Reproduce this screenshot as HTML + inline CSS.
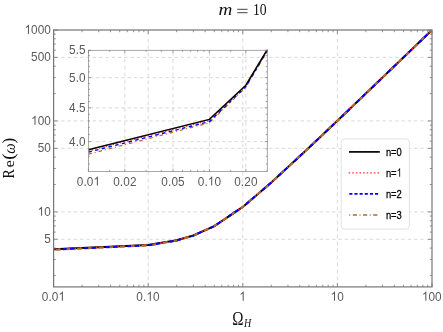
<!DOCTYPE html>
<html><head><meta charset="utf-8"><title>m = 10</title>
<style>html,body{margin:0;padding:0;background:#fff;}svg{display:block;will-change:transform}</style>
</head><body>
<svg width="443" height="332" viewBox="0 0 443 332">
<rect width="443" height="332" fill="#fff"/>
<g stroke="#cfcfcf" stroke-width="0.8" fill="none">
<path d="M53.6 239.28 H432.0 M53.6 211.90 H432.0 M53.6 148.33 H432.0 M53.6 120.95 H432.0 M53.6 57.38 H432.0" stroke-dasharray="3.4 2.9" stroke-dashoffset="5"/>
<path d="M148.20 30.0 V286.9 M242.80 30.0 V286.9 M337.40 30.0 V286.9" stroke-dasharray="3.8 3.2" stroke-dashoffset="5.5"/>
<path d="M88.4 141.60 H267.3 M88.4 107.84 H267.3 M88.4 77.64 H267.3" stroke-dasharray="3.4 2.9" stroke-dashoffset="5"/>
<path d="M124.82 50.3 V171.4 M172.98 50.3 V171.4 M209.40 50.3 V171.4 M245.82 50.3 V171.4" stroke-dasharray="3.8 3.2" stroke-dashoffset="5.5"/>
</g>
<clipPath id="cm"><rect x="53.6" y="30.0" width="378.4" height="256.9"/></clipPath>
<g clip-path="url(#cm)" fill="none">
<path d="M53.60 249.20 L148.20 245.03 L176.68 240.32 L193.34 235.44 L214.32 226.10 L242.80 206.90 L271.28 182.59 L308.92 147.70 L337.40 120.83 L432.00 30.00" stroke="#000" stroke-width="2.0"/>
<path d="M53.60 249.38 L148.20 245.19 L176.68 240.42 L193.34 235.51 L214.32 226.13 L242.80 206.90 L271.28 182.59 L308.92 147.70 L337.40 120.83 L432.00 30.00" stroke="#ff2a2a" stroke-width="2.0" stroke-dasharray="1.7 3.675" stroke-dashoffset="0.85"/>
<path d="M53.60 249.54 L148.20 245.34 L176.68 240.51 L193.34 235.59 L214.32 226.16 L242.80 206.90 L271.28 182.59 L308.92 147.70 L337.40 120.83 L432.00 30.00" stroke="#0000ff" stroke-width="2.0" stroke-dasharray="11.6 9.9" stroke-dashoffset="-9.3"/>
<path d="M53.60 249.83 L148.20 245.50 L176.68 240.61 L193.34 235.66 L214.32 226.19 L242.80 206.90 L271.28 182.59 L308.92 147.70 L337.40 120.83 L432.00 30.00" stroke="#b5682e" stroke-width="2.0" stroke-dasharray="5.2 5.8 3.6 6.9" stroke-dashoffset="-2.0"/>
</g>
<clipPath id="ci"><rect x="88.4" y="49.8" width="179.5" height="121.10000000000001"/></clipPath>
<g clip-path="url(#ci)" fill="none">
<path d="M88.40 154.20 L209.40 122.81 L245.82 87.32 L267.13 51.36 L293.98 -17.37 L330.40 -157.34 L366.82 -333.71 L414.98 -586.91 L451.40 -781.90 L572.40 -1441.04" stroke="#b5682e" stroke-width="1.2" stroke-dasharray="3.5 3 1 3"/>
<path d="M88.40 152.11 L209.40 121.60 L245.82 86.61 L267.13 50.84 L293.98 -17.57 L330.40 -157.34 L366.82 -333.71 L414.98 -586.91 L451.40 -781.90 L572.40 -1441.04" stroke="#0000ff" stroke-width="1.4" stroke-dasharray="3.5 3.4"/>
<path d="M88.40 150.92 L209.40 120.54 L245.82 85.90 L267.13 50.32 L293.98 -17.78 L330.40 -157.34 L366.82 -333.71 L414.98 -586.91 L451.40 -781.90 L572.40 -1441.04" stroke="#ff3030" stroke-width="1.2" stroke-dasharray="1.2 2.4"/>
<path d="M88.40 149.67 L209.40 119.41 L245.82 85.19 L267.13 49.80 L293.98 -17.98 L330.40 -157.34 L366.82 -333.71 L414.98 -586.91 L451.40 -781.90 L572.40 -1441.04" stroke="#000" stroke-width="1.5"/>
</g>
<rect x="53.6" y="30.0" width="378.4" height="256.9" fill="none" stroke="#767676" stroke-width="1.2"/>
<path d="M53.60 286.9 v-4.0 M53.60 30.0 v4.0 M82.08 286.9 v-2.2 M82.08 30.0 v2.2 M98.74 286.9 v-2.2 M98.74 30.0 v2.2 M110.55 286.9 v-2.2 M110.55 30.0 v2.2 M119.72 286.9 v-2.2 M119.72 30.0 v2.2 M127.21 286.9 v-2.2 M127.21 30.0 v2.2 M133.55 286.9 v-2.2 M133.55 30.0 v2.2 M139.03 286.9 v-2.2 M139.03 30.0 v2.2 M143.87 286.9 v-2.2 M143.87 30.0 v2.2 M148.20 286.9 v-4.0 M148.20 30.0 v4.0 M176.68 286.9 v-2.2 M176.68 30.0 v2.2 M193.34 286.9 v-2.2 M193.34 30.0 v2.2 M205.15 286.9 v-2.2 M205.15 30.0 v2.2 M214.32 286.9 v-2.2 M214.32 30.0 v2.2 M221.81 286.9 v-2.2 M221.81 30.0 v2.2 M228.15 286.9 v-2.2 M228.15 30.0 v2.2 M233.63 286.9 v-2.2 M233.63 30.0 v2.2 M238.47 286.9 v-2.2 M238.47 30.0 v2.2 M242.80 286.9 v-4.0 M242.80 30.0 v4.0 M271.28 286.9 v-2.2 M271.28 30.0 v2.2 M287.94 286.9 v-2.2 M287.94 30.0 v2.2 M299.75 286.9 v-2.2 M299.75 30.0 v2.2 M308.92 286.9 v-2.2 M308.92 30.0 v2.2 M316.41 286.9 v-2.2 M316.41 30.0 v2.2 M322.75 286.9 v-2.2 M322.75 30.0 v2.2 M328.23 286.9 v-2.2 M328.23 30.0 v2.2 M333.07 286.9 v-2.2 M333.07 30.0 v2.2 M337.40 286.9 v-4.0 M337.40 30.0 v4.0 M365.88 286.9 v-2.2 M365.88 30.0 v2.2 M382.54 286.9 v-2.2 M382.54 30.0 v2.2 M394.35 286.9 v-2.2 M394.35 30.0 v2.2 M403.52 286.9 v-2.2 M403.52 30.0 v2.2 M411.01 286.9 v-2.2 M411.01 30.0 v2.2 M417.35 286.9 v-2.2 M417.35 30.0 v2.2 M422.83 286.9 v-2.2 M422.83 30.0 v2.2 M427.67 286.9 v-2.2 M427.67 30.0 v2.2 M432.00 286.9 v-4.0 M432.00 30.0 v4.0 M53.6 275.47 h2.2 M432.0 275.47 h-2.2 M53.6 259.46 h2.2 M432.0 259.46 h-2.2 M53.6 248.09 h2.2 M432.0 248.09 h-2.2 M53.6 239.28 h4.0 M432.0 239.28 h-4.0 M53.6 232.08 h2.2 M432.0 232.08 h-2.2 M53.6 225.99 h2.2 M432.0 225.99 h-2.2 M53.6 220.71 h2.2 M432.0 220.71 h-2.2 M53.6 216.06 h2.2 M432.0 216.06 h-2.2 M53.6 211.90 h4.0 M432.0 211.90 h-4.0 M53.6 184.52 h2.2 M432.0 184.52 h-2.2 M53.6 168.51 h2.2 M432.0 168.51 h-2.2 M53.6 157.14 h2.2 M432.0 157.14 h-2.2 M53.6 148.33 h4.0 M432.0 148.33 h-4.0 M53.6 141.13 h2.2 M432.0 141.13 h-2.2 M53.6 135.04 h2.2 M432.0 135.04 h-2.2 M53.6 129.76 h2.2 M432.0 129.76 h-2.2 M53.6 125.11 h2.2 M432.0 125.11 h-2.2 M53.6 120.95 h4.0 M432.0 120.95 h-4.0 M53.6 93.57 h2.2 M432.0 93.57 h-2.2 M53.6 77.56 h2.2 M432.0 77.56 h-2.2 M53.6 66.19 h2.2 M432.0 66.19 h-2.2 M53.6 57.38 h4.0 M432.0 57.38 h-4.0 M53.6 50.18 h2.2 M432.0 50.18 h-2.2 M53.6 44.09 h2.2 M432.0 44.09 h-2.2 M53.6 38.81 h2.2 M432.0 38.81 h-2.2 M53.6 34.16 h2.2 M432.0 34.16 h-2.2 M53.6 30.00 h4.0 M432.0 30.00 h-4.0" stroke="#767676" stroke-width="0.8" fill="none"/>
<rect x="88.4" y="50.3" width="178.9" height="121.10000000000001" fill="none" stroke="#8a8a8a" stroke-width="0.75"/>
<path d="M88.40 171.4 v-2.6 M88.40 50.3 v2.6 M109.71 171.4 v-1.5 M109.71 50.3 v1.5 M124.82 171.4 v-2.6 M124.82 50.3 v2.6 M146.13 171.4 v-1.5 M146.13 50.3 v1.5 M161.25 171.4 v-1.5 M161.25 50.3 v1.5 M172.98 171.4 v-2.6 M172.98 50.3 v2.6 M182.56 171.4 v-1.5 M182.56 50.3 v1.5 M190.66 171.4 v-1.5 M190.66 50.3 v1.5 M197.67 171.4 v-1.5 M197.67 50.3 v1.5 M203.86 171.4 v-1.5 M203.86 50.3 v1.5 M209.40 171.4 v-2.6 M209.40 50.3 v2.6 M230.71 171.4 v-1.5 M230.71 50.3 v1.5 M245.82 171.4 v-2.6 M245.82 50.3 v2.6 M267.13 171.4 v-1.5 M267.13 50.3 v1.5 M88.4 163.95 h1.5 M267.3 163.95 h-1.5 M88.4 156.30 h1.5 M267.3 156.30 h-1.5 M88.4 148.86 h1.5 M267.3 148.86 h-1.5 M88.4 141.60 h2.6 M267.3 141.60 h-2.6 M88.4 134.52 h1.5 M267.3 134.52 h-1.5 M88.4 127.62 h1.5 M267.3 127.62 h-1.5 M88.4 120.87 h1.5 M267.3 120.87 h-1.5 M88.4 114.28 h1.5 M267.3 114.28 h-1.5 M88.4 107.84 h2.6 M267.3 107.84 h-2.6 M88.4 101.54 h1.5 M267.3 101.54 h-1.5 M88.4 95.38 h1.5 M267.3 95.38 h-1.5 M88.4 89.34 h1.5 M267.3 89.34 h-1.5 M88.4 83.43 h1.5 M267.3 83.43 h-1.5 M88.4 77.64 h2.6 M267.3 77.64 h-2.6 M88.4 71.96 h1.5 M267.3 71.96 h-1.5 M88.4 66.40 h1.5 M267.3 66.40 h-1.5 M88.4 60.94 h1.5 M267.3 60.94 h-1.5 M88.4 55.58 h1.5 M267.3 55.58 h-1.5 M88.4 50.32 h2.6 M267.3 50.32 h-2.6" stroke="#767676" stroke-width="0.7" fill="none"/>
<g style="font-family:'Liberation Sans',sans-serif" font-size="11.8" fill="#5a5a5a">
<g transform="translate(41.74,300.70) scale(1,1.08)"><text x="0.00" y="0" letter-spacing="0.12">0.0</text><path transform="translate(16.76,0) scale(0.00576)" d="M763 0H583V-1147Q518 -1085 412.5 -1023Q307 -961 223 -930V-1104Q374 -1175 487 -1276Q600 -1377 647 -1472H763Z"/></g>
<g transform="translate(136.34,300.70) scale(1,1.08)"><text x="0.00" y="0" letter-spacing="0.12">0.</text><path transform="translate(10.08,0) scale(0.00576)" d="M763 0H583V-1147Q518 -1085 412.5 -1023Q307 -961 223 -930V-1104Q374 -1175 487 -1276Q600 -1377 647 -1472H763Z"/><text x="16.76" y="0" letter-spacing="0.12">0</text></g>
<g transform="translate(239.32,300.70) scale(1,1.08)"><path transform="translate(0.00,0) scale(0.00576)" d="M763 0H583V-1147Q518 -1085 412.5 -1023Q307 -961 223 -930V-1104Q374 -1175 487 -1276Q600 -1377 647 -1472H763Z"/></g>
<g transform="translate(330.64,300.70) scale(1,1.08)"><path transform="translate(0.00,0) scale(0.00576)" d="M763 0H583V-1147Q518 -1085 412.5 -1023Q307 -961 223 -930V-1104Q374 -1175 487 -1276Q600 -1377 647 -1472H763Z"/><text x="6.56" y="0">0</text></g>
<g transform="translate(421.96,300.70) scale(1,1.08)"><path transform="translate(0.00,0) scale(0.00576)" d="M763 0H583V-1147Q518 -1085 412.5 -1023Q307 -961 223 -930V-1104Q374 -1175 487 -1276Q600 -1377 647 -1472H763Z"/><text x="6.56" y="0">00</text></g>
<g transform="translate(44.24,243.18) scale(1,1.08)"><text x="0.00" y="0">5</text></g>
<g transform="translate(37.68,215.80) scale(1,1.08)"><path transform="translate(0.00,0) scale(0.00576)" d="M763 0H583V-1147Q518 -1085 412.5 -1023Q307 -961 223 -930V-1104Q374 -1175 487 -1276Q600 -1377 647 -1472H763Z"/><text x="6.56" y="0">0</text></g>
<g transform="translate(37.68,152.23) scale(1,1.08)"><text x="0.00" y="0">50</text></g>
<g transform="translate(31.12,124.85) scale(1,1.08)"><path transform="translate(0.00,0) scale(0.00576)" d="M763 0H583V-1147Q518 -1085 412.5 -1023Q307 -961 223 -930V-1104Q374 -1175 487 -1276Q600 -1377 647 -1472H763Z"/><text x="6.56" y="0">00</text></g>
<g transform="translate(31.12,61.28) scale(1,1.08)"><text x="0.00" y="0">500</text></g>
<g transform="translate(24.56,33.90) scale(1,1.08)"><path transform="translate(0.00,0) scale(0.00576)" d="M763 0H583V-1147Q518 -1085 412.5 -1023Q307 -961 223 -930V-1104Q374 -1175 487 -1276Q600 -1377 647 -1472H763Z"/><text x="6.56" y="0">000</text></g>
<g transform="translate(76.74,185.60) scale(1,1.08)"><text x="0.00" y="0" letter-spacing="0.12">0.0</text><path transform="translate(16.76,0) scale(0.00576)" d="M763 0H583V-1147Q518 -1085 412.5 -1023Q307 -961 223 -930V-1104Q374 -1175 487 -1276Q600 -1377 647 -1472H763Z"/></g>
<g transform="translate(113.16,185.60) scale(1,1.08)"><text x="0.00" y="0" letter-spacing="0.12">0.02</text></g>
<g transform="translate(161.31,185.60) scale(1,1.08)"><text x="0.00" y="0" letter-spacing="0.12">0.05</text></g>
<g transform="translate(197.74,185.60) scale(1,1.08)"><text x="0.00" y="0" letter-spacing="0.12">0.</text><path transform="translate(10.08,0) scale(0.00576)" d="M763 0H583V-1147Q518 -1085 412.5 -1023Q307 -961 223 -930V-1104Q374 -1175 487 -1276Q600 -1377 647 -1472H763Z"/><text x="16.76" y="0" letter-spacing="0.12">0</text></g>
<g transform="translate(234.16,185.60) scale(1,1.08)"><text x="0.00" y="0" letter-spacing="0.12">0.20</text></g>
<g transform="translate(68.96,145.50) scale(1,1.08)"><text x="0.00" y="0" letter-spacing="0.12">4.0</text></g>
<g transform="translate(68.96,111.74) scale(1,1.08)"><text x="0.00" y="0" letter-spacing="0.12">4.5</text></g>
<g transform="translate(68.96,81.54) scale(1,1.08)"><text x="0.00" y="0" letter-spacing="0.12">5.0</text></g>
<g transform="translate(68.96,54.22) scale(1,1.08)"><text x="0.00" y="0" letter-spacing="0.12">5.5</text></g>
</g>
<rect x="341.2" y="138.9" width="68.2" height="90.2" rx="3.5" fill="#fff" fill-opacity="0.8" stroke="#dadada" stroke-width="0.8"/>
<g fill="none">
<path d="M349 151.9 H379.8" stroke="#000" stroke-width="1.7"/>
<path d="M348.7 172.8 H379.2" stroke="#ff3030" stroke-width="1.3" stroke-dasharray="1.5 2.1"/>
<path d="M349.3 193.9 H379.8" stroke="#0000ff" stroke-width="1.8" stroke-dasharray="3.1 2.05"/>
<path d="M349.3 214.9 H379.8" stroke="#b5682e" stroke-width="1.5" stroke-dasharray="1 2.5 4.2 2.5"/>
</g>
<g style="font-family:'Liberation Sans',sans-serif" font-size="9.4" fill="#000" stroke="#000" stroke-width="0.22">
<g transform="translate(385.90,155.80) scale(1,1.25)"><text x="0.00" y="0">n=0</text></g>
<g transform="translate(385.90,176.70) scale(1,1.25)"><text x="0.00" y="0">n=</text><path transform="translate(10.72,0) scale(0.00459)" d="M763 0H583V-1147Q518 -1085 412.5 -1023Q307 -961 223 -930V-1104Q374 -1175 487 -1276Q600 -1377 647 -1472H763Z"/></g>
<g transform="translate(385.90,197.80) scale(1,1.25)"><text x="0.00" y="0">n=2</text></g>
<g transform="translate(385.90,218.80) scale(1,1.25)"><text x="0.00" y="0">n=3</text></g>
</g>
<g style="font-family:'Liberation Serif',serif" fill="#111">
<text transform="translate(218.53,15.40) scale(1.922,1.660)" font-size="10" font-style="italic">m</text>
<text transform="translate(252.97,15.28) scale(1.368,1.618)" font-size="10" font-style="normal">10</text>
<path d="M237.2 9.3 H247.6 M237.2 12.7 H247.6" stroke="#222" stroke-width="0.85" fill="none"/>
<g transform="translate(14.0,178.6) rotate(-90)">
<text transform="translate(-0.02,0.00) scale(1.391,1.585)" font-size="10" font-style="normal">R</text>
<text transform="translate(11.03,0.06) scale(1.676,1.417)" font-size="10" font-style="normal">e</text>
<text transform="translate(18.83,0.16) scale(1.923,1.733)" font-size="10" font-style="normal">(</text>
<text transform="translate(24.76,0.54) scale(1.460,1.625)" font-size="10" font-style="italic">ω</text>
<text transform="translate(34.98,0.16) scale(1.731,1.733)" font-size="10" font-style="normal">)</text>
</g>
<text transform="translate(232.34,324.80) scale(1.516,1.815)" font-size="10" font-style="normal">Ω</text>
<text transform="translate(243.90,326.90) scale(1.000,1.215)" font-size="10" font-style="italic">H</text>
</g>
</svg>
</body></html>
